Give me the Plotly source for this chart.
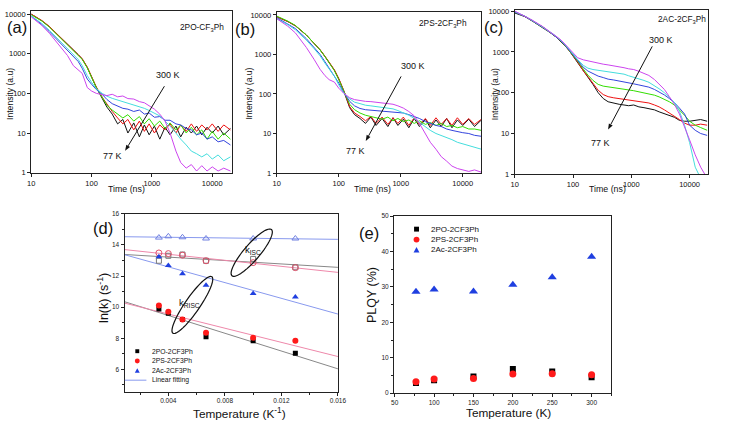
import numpy as np
import plotly.graph_objects as go

W, H = 730, 426
FONT = "Liberation Sans, Arial, sans-serif"


def px(x):
    return x / W


def py(y):
    return 1 - y / H


# ---------------- data: (a)-(c) transient decays ----------------
t_ns = [10, 15, 20, 30, 40, 50, 60, 70, 85, 100, 120, 150, 180, 220, 270, 330, 400, 500,
        620, 750, 900, 1100, 1350, 1650, 2000, 2500, 3000, 3700, 4500, 5500, 6700, 8200,
        10000, 12500, 15500, 20000]
temps = ["77 K", "100 K", "150 K", "200 K", "250 K", "300 K"]
curve_colors = ["#111111", "#ee1111", "#33dd00", "#3344dd", "#44dddd", "#cc44ee"]

a_77 = [10000, 6800, 4800, 2700, 1750, 1250, 950, 740, 450, 260, 140, 75, 45, 30, 17, 22, 10, 18,
        8, 16, 9, 15, 7, 14, 9, 15, 8, 14, 10, 15, 9, 14, 10, 15, 9, 13]
a_100 = [10000, 6900, 4900, 2700, 1800, 1280, 970, 750, 460, 265, 145, 80, 52, 35, 24, 17, 22, 12,
         20, 11, 17, 10, 16, 12, 17, 10, 16, 11, 17, 11, 16, 12, 17, 11, 16, 12]
a_150 = [9600, 6700, 4700, 2600, 1700, 1200, 930, 720, 440, 250, 140, 80, 50, 38, 30, 24, 29, 20,
         26, 17, 23, 15, 20, 13, 18, 12, 16, 10, 14, 9, 12, 7, 11, 7, 10, 7]
a_200 = [9000, 5500, 3600, 1900, 1250, 900, 640, 430, 230, 170, 125, 95, 70, 55, 48, 42, 40, 35,
         38, 30, 32, 25, 26, 21, 21, 17, 16, 13, 12, 9, 10, 7, 8, 6, 6.5, 5]
a_250 = [9000, 5800, 3900, 2100, 1350, 1000, 720, 500, 280, 190, 130, 100, 85, 75, 68, 62, 58, 52,
         46, 42, 37, 32, 27, 20, 15, 10, 7, 5, 3.5, 3, 2.5, 3, 2.2, 2.8, 2, 2.5]
a_300 = [8500, 5200, 3300, 1600, 900, 500, 380, 320, 140, 115, 100, 95, 88, 95, 82, 86, 74, 72,
         62, 58, 48, 40, 30, 20, 10, 3.5, 1.8, 1.3, 1.6, 1.1, 1.5, 1.1, 1.4, 1.1, 1.3, 1.1]

b_77 = [9000, 6800, 5300, 3100, 1900, 1300, 880, 610, 400, 240, 120, 45, 30, 24, 18, 26, 16, 24,
        15, 25, 16, 23, 14, 24, 15, 23, 14, 22, 15, 24, 14, 22, 16, 23, 15, 22]
b_100 = [9000, 6800, 5300, 3100, 1900, 1320, 900, 620, 410, 245, 125, 48, 33, 27, 21, 27, 18, 26,
         17, 25, 18, 26, 16, 25, 17, 24, 16, 25, 17, 24, 16, 25, 17, 24, 17, 23]
b_150 = [9300, 7000, 5400, 3100, 1900, 1300, 880, 600, 390, 230, 120, 55, 40, 33, 29, 27, 26, 23,
         26, 21, 24, 20, 22, 18, 21, 17, 19, 16, 18, 15, 16, 14, 15, 13, 13, 12]
b_200 = [8500, 6000, 4500, 2500, 1500, 1000, 650, 450, 300, 190, 110, 65, 50, 43, 40, 39, 38, 38,
         37, 36, 35, 33, 30, 27, 24, 20, 18, 16, 15, 13, 12, 11, 10.5, 10, 9, 8.5]
b_250 = [8000, 5700, 4200, 2300, 1400, 920, 600, 420, 280, 170, 105, 75, 62, 57, 52, 50, 48, 47,
         45, 42, 38, 34, 29, 24, 19, 15, 12, 10, 9, 8, 7, 6, 5.5, 5, 4.5, 4]
b_300 = [8000, 5200, 3500, 1500, 750, 420, 290, 230, 200, 140, 105, 80, 72, 68, 65, 64, 62, 60,
         58, 55, 50, 44, 36, 28, 18, 10, 6, 4, 2.6, 2, 1.5, 1.3, 1.2, 1.1, 1.2, 1.05]

c_77 = [9000, 7300, 5700, 4000, 3000, 2400, 1900, 1500, 1100, 800, 560, 340, 240, 160, 100, 72, 60,
        55, 52, 50, 48, 50, 45, 43, 41, 38, 34, 31, 28, 25, 21, 20, 20, 21, 22, 20]
c_100 = [9500, 7400, 5800, 4100, 3050, 2450, 1950, 1550, 1120, 810, 570, 345, 250, 175, 115, 90,
         80, 75, 72, 70, 67, 64, 62, 60, 56, 50, 45, 38, 32, 27, 22, 18, 16, 16, 17, 16]
c_150 = [9500, 7400, 5800, 4100, 3050, 2450, 1950, 1550, 1120, 820, 600, 380, 270, 200, 160, 145,
         140, 135, 128, 122, 117, 112, 105, 100, 95, 87, 79, 70, 60, 50, 38, 28, 20, 16, 14, 12]
c_200 = [9500, 7400, 5800, 4100, 3050, 2450, 1950, 1560, 1150, 850, 620, 420, 340, 290, 255, 235,
         215, 205, 195, 185, 175, 165, 155, 147, 137, 120, 104, 88, 72, 57, 42, 30, 16, 12, 10, 9]
c_250 = [9700, 7500, 5900, 4150, 3100, 2500, 2000, 1600, 1180, 880, 650, 470, 400, 370, 355, 345,
         335, 320, 305, 285, 260, 240, 220, 200, 180, 150, 125, 100, 78, 58, 35, 16, 6, 1.5, 0.8, 0.6]
c_300 = [10000, 7600, 6000, 4200, 3150, 2550, 2050, 1650, 1220, 920, 720, 640, 600, 560, 520, 500,
         480, 460, 435, 410, 385, 370, 335, 300, 265, 210, 165, 120, 80, 52, 30, 15, 7, 3, 1.5, 0.8]

panel_names = ["2PO-CF<sub>3</sub>Ph", "2PS-2CF<sub>3</sub>Ph", "2AC-2CF<sub>3</sub>Ph"]

# ---------------- data: (d) rate constants ----------------
d_temp_K = [300, 250, 200, 150, 100, 77]
risc_po = [9.88, 9.60, 9.20, 8.10, 7.84, 7.03]
risc_ps = [10.11, 9.71, 9.20, 8.35, 8.03, 7.84]
risc_ac = [13.23, 12.67, 12.14, 11.41, 10.88, 10.65]
isc_po = [12.98, 13.30, 13.38, 12.98, 13.10, 12.56]
isc_ps = [13.48, 13.44, 13.34, 12.98, 12.86, 12.54]
isc_ac = [14.47, 14.55, 14.49, 14.41, 14.41, 14.41]
d_names = ["2PO-2CF3Ph", "2PS-2CF3Ph", "2Ac-2CF3Ph"]

# ---------------- data: (e) PLQY ----------------
e_temp_K = [77, 100, 150, 200, 250, 300]
plqy_po = [2.85, 3.6, 4.7, 6.8, 6.1, 4.5]
plqy_ps = [3.2, 4.0, 4.15, 5.4, 5.5, 5.2]
plqy_ac = [28.6, 29.25, 28.7, 30.6, 32.75, 38.5]

fig = go.Figure()

# ---------------- (a)-(c) ----------------
decays = [[a_77, a_100, a_150, a_200, a_250, a_300],
          [b_77, b_100, b_150, b_200, b_250, b_300],
          [c_77, c_100, c_150, c_200, c_250, c_300]]
for p, curves in enumerate(decays):
    xa = "x" if p == 0 else f"x{p + 1}"
    ya = "y" if p == 0 else f"y{p + 1}"
    for k, vals in enumerate(curves):
        fig.add_trace(go.Scatter(x=t_ns, y=vals, mode="lines", name=temps[k],
                                 line=dict(color=curve_colors[k], width=1),
                                 xaxis=xa, yaxis=ya, showlegend=False))

# ---------------- (d) ----------------
inv_T = [1.0 / t for t in d_temp_K]
mk_col = ["#000000", "#ff1a1a", "#1f3fe0"]
fit_col = ["#888888", "#ee88aa", "#8899ee"]
open_col = ["#777777", "#e0506a", "#7080e0"]
d_xr = [0.0009, 0.016]
for k, (risc, isc) in enumerate(zip([risc_po, risc_ps, risc_ac], [isc_po, isc_ps, isc_ac])):
    for ser in (risc, isc):
        m, b = np.polyfit(inv_T, ser, 1)
        fig.add_trace(go.Scatter(x=d_xr, y=[m * d_xr[0] + b, m * d_xr[1] + b], mode="lines",
                                 line=dict(color=fit_col[k], width=1), xaxis="x4", yaxis="y4",
                                 showlegend=False, hoverinfo="skip"))
syms = ["square", "circle", "triangle-up"]
osyms = ["square-open", "circle-open", "triangle-up-open"]
sizes = [5, 6, 6]
for k, (risc, isc) in enumerate(zip([risc_po, risc_ps, risc_ac], [isc_po, isc_ps, isc_ac])):
    fig.add_trace(go.Scatter(x=inv_T, y=isc, mode="markers", name=d_names[k] + " kISC",
                             marker=dict(symbol=osyms[k], size=sizes[k], color=open_col[k],
                                         line=dict(width=1)),
                             xaxis="x4", yaxis="y4", showlegend=False))
    fig.add_trace(go.Scatter(x=inv_T, y=risc, mode="markers", name=d_names[k],
                             marker=dict(symbol=syms[k], size=sizes[k], color=mk_col[k]),
                             xaxis="x4", yaxis="y4", showlegend=False))

# ---------------- (e) ----------------
for k, vals in enumerate([plqy_po, plqy_ps, plqy_ac]):
    fig.add_trace(go.Scatter(x=e_temp_K, y=vals, mode="markers", name=d_names[k],
                             marker=dict(symbol=syms[k], size=[6, 7, 8][k], color=mk_col[k]),
                             xaxis="x5", yaxis="y5", showlegend=False))

# ---------------- axes ----------------
def ax_style(**kw):
    base = dict(showline=True, linecolor="#222222", linewidth=1, mirror=True, ticks="outside",
                ticklen=3, tickcolor="#222222", showgrid=False, zeroline=False,
                tickfont=dict(family=FONT, size=7.5, color="#111111"))
    base.update(kw)
    return base


log_x = dict(type="log", tickvals=[10, 100, 1000, 10000], ticktext=["10", "100", "1000", "10000"])
log_y = dict(type="log", tickvals=[1, 10, 100, 1000, 10000],
             ticktext=["1", "10", "100", "1000", "10000"])

frames = [  # left, right, top, bottom (pixels), x-range end, y-range end
    (27.7, 231.7, 6.7, 172.3, 4.32, 4.09),
    (277.7, 486.0, 8.3, 172.7, 4.30, 4.07),
    (520.0, 717.0, 6.0, 174.0, 4.32, 4.03),
]
for p, (l, r, t, bt, xe, ye) in enumerate(frames):
    sfx = "" if p == 0 else str(p + 1)
    fig.layout["xaxis" + sfx] = ax_style(domain=[px(l), px(r)], range=[1, xe],
                                         anchor="y" + sfx, **log_x)
    fig.layout["yaxis" + sfx] = ax_style(domain=[py(bt), py(t)], range=[0, ye],
                                         anchor="x" + sfx, **log_y)

small = dict(family=FONT, size=6.5, color="#222222")
fig.update_layout(
    xaxis4=ax_style(domain=[px(122.7), px(340)], range=d_xr, anchor="y4",
                    tickvals=[0.004, 0.008, 0.012, 0.016],
                    ticktext=["0.004", "0.008", "0.012", "0.016"], tickfont=small,
                    minor=dict(tickvals=[0.002, 0.006, 0.010, 0.014], ticks="outside", ticklen=2)),
    yaxis4=ax_style(domain=[py(396), py(214.3)], range=[4.57, 16], anchor="x4",
                    tickvals=[6, 8, 10, 12, 14, 16], tickfont=small,
                    minor=dict(tickvals=[5, 7, 9, 11, 13, 15], ticks="outside", ticklen=2)),
    xaxis5=ax_style(domain=[px(397), px(618.3)], range=[49, 325], anchor="y5",
                    tickvals=[50, 100, 150, 200, 250, 300], tickfont=small,
                    minor=dict(tickvals=[75, 125, 175, 225, 275, 325], ticks="outside", ticklen=2)),
    yaxis5=ax_style(domain=[py(397.5), py(216.7)], range=[0, 50], anchor="x5",
                    tickvals=[0, 10, 20, 30, 40, 50], tickfont=small,
                    minor=dict(tickvals=[5, 15, 25, 35, 45], ticks="outside", ticklen=2)),
)

# ---------------- annotations ----------------
anns = []


def txt(x, y, text, size, angle=0, xanchor="center", color="#111111"):
    anns.append(dict(x=px(x), y=py(y), xref="paper", yref="paper", text=text, showarrow=False,
                     xanchor=xanchor, yanchor="middle", textangle=angle,
                     font=dict(family=FONT, size=size, color=color)))


# panel letters
for (x, y, s) in [(13, 24, "(a)"), (245, 26, "(b)"), (498, 24, "(c)"), (101, 229, "(d)"),
                  (371.7, 234, "(e)")]:
    txt(x, y, s, 16.5)
# panel names
txt(201.7, 24, panel_names[0], 8.3)
txt(446.7, 20, panel_names[1], 8.3)
txt(690, 16, panel_names[2], 8.3)
# decay axis titles
for (yx, tx) in [(6, 125), (250, 375), (500, 614)]:
    txt(yx, 92, "Intensity (a.u)", 8.6, angle=-90)
    txt(tx, 189, "Time (ns)", 8.8)

# ---------------- shapes ----------------
shapes = []

# temperature arrows (line + filled head) and their labels
for (hx, hy, tx_, ty_, lx300, ly300, lx77, ly77) in [
        (123.3, 150, 163.3, 84, 166.7, 72.7, 110, 155),
        (368.3, 140, 404.3, 74, 416, 63.3, 358.3, 150),
        (615, 128.3, 660, 43.3, 669, 36.7, 607.7, 141.7)]:
    L = np.hypot(tx_ - hx, ty_ - hy)
    ux, uy = (tx_ - hx) / L, (ty_ - hy) / L
    bx, by = hx + 6 * ux, hy + 6 * uy
    shapes.append(dict(type="line", xref="paper", yref="paper", x0=px(bx), y0=py(by),
                       x1=px(tx_), y1=py(ty_), line=dict(color="#111111", width=1)))
    p1 = (bx - 2.2 * uy, by + 2.2 * ux)
    p2 = (bx + 2.2 * uy, by - 2.2 * ux)
    shapes.append(dict(type="path", xref="paper", yref="paper",
                       path=f"M {px(hx)},{py(hy)} L {px(p1[0])},{py(p1[1])} "
                            f"L {px(p2[0])},{py(p2[1])} Z",
                       fillcolor="#111111", line=dict(width=0)))
    txt(lx300, ly300, "300 K", 9)
    txt(lx77, ly77, "77 K", 9)

# (d) titles and labels
txt(100, 300, "ln(k) (s<sup>-1</sup>)", 12.5, angle=-90)
txt(240, 418, "Temperature (K<sup>-1</sup>)", 11.8)
txt(254, 251, "k<sub>ISC</sub>", 9.5)
txt(189, 305, "k<sub>RISC</sub>", 9.5)
# (e) titles
txt(374, 297, "PLQY (%)", 12.5, angle=-90)
txt(513.3, 418, "Temperature (K)", 11.8)

# legends (text parts)
for i, nm in enumerate(d_names):
    txt(148.3, [354.7, 364.7, 374.7][i], nm, 6.8, xanchor="left")
txt(148.3, 384.3, "Linear fitting", 6.8, xanchor="left")
for i, nm in enumerate(d_names):
    txt(432.7, [230, 240.7, 251.3][i], nm, 8, xanchor="left")

sx = (340 - 122.7) / (d_xr[1] - d_xr[0])
sy = (396 - 214.3) / (16 - 4.57)


def ellipse(cx, cy, a, b, ang):
    th = np.linspace(0, 2 * np.pi, 73)
    r = np.radians(ang)
    dx = a * np.cos(th) * np.cos(r) - b * np.sin(th) * np.sin(r)
    dy = a * np.cos(th) * np.sin(r) + b * np.sin(th) * np.cos(r)
    X = cx + dx / sx
    Y = cy + dy / sy
    path = "M " + " L ".join(f"{xx:.6f},{yy:.4f}" for xx, yy in zip(X, Y)) + " Z"
    shapes.append(dict(type="path", path=path, xref="x4", yref="y4",
                       line=dict(color="#111111", width=1.2)))


ellipse(0.0099, 13.50, 31, 8, 49.6)
ellipse(0.0057, 10.14, 35, 7.5, 55.5)


def sym(kind, x, y, s, color):
    if kind == "square":
        shapes.append(dict(type="rect", xref="paper", yref="paper", x0=px(x - s / 2),
                           x1=px(x + s / 2), y0=py(y + s / 2), y1=py(y - s / 2),
                           fillcolor=color, line=dict(width=0)))
    elif kind == "circle":
        shapes.append(dict(type="circle", xref="paper", yref="paper", x0=px(x - s / 2),
                           x1=px(x + s / 2), y0=py(y + s / 2), y1=py(y - s / 2),
                           fillcolor=color, line=dict(width=0)))
    else:
        p = (f"M {px(x - s / 2)},{py(y + s * 0.42)} L {px(x + s / 2)},{py(y + s * 0.42)} "
             f"L {px(x)},{py(y - s * 0.5)} Z")
        shapes.append(dict(type="path", xref="paper", yref="paper", path=p,
                           fillcolor=color, line=dict(width=0)))


for i, kind in enumerate(["square", "circle", "triangle"]):
    sym(kind, 135.7, [354.7, 364.7, 374.7][i], [4, 5, 5][i], mk_col[i])
    sym(kind, 420, [230, 240.7, 251.3][i], [5, 6, 6][i], mk_col[i])
shapes.append(dict(type="line", xref="paper", yref="paper", x0=px(123), x1=px(145),
                   y0=py(384.3), y1=py(384.3), line=dict(color="#8899ee", width=1)))

fig.update_layout(width=W, height=H, margin=dict(l=0, r=0, t=0, b=0, pad=0),
                  paper_bgcolor="white", plot_bgcolor="white", showlegend=False,
                  annotations=anns, shapes=shapes, font=dict(family=FONT))

fig.write_html("out.html")
